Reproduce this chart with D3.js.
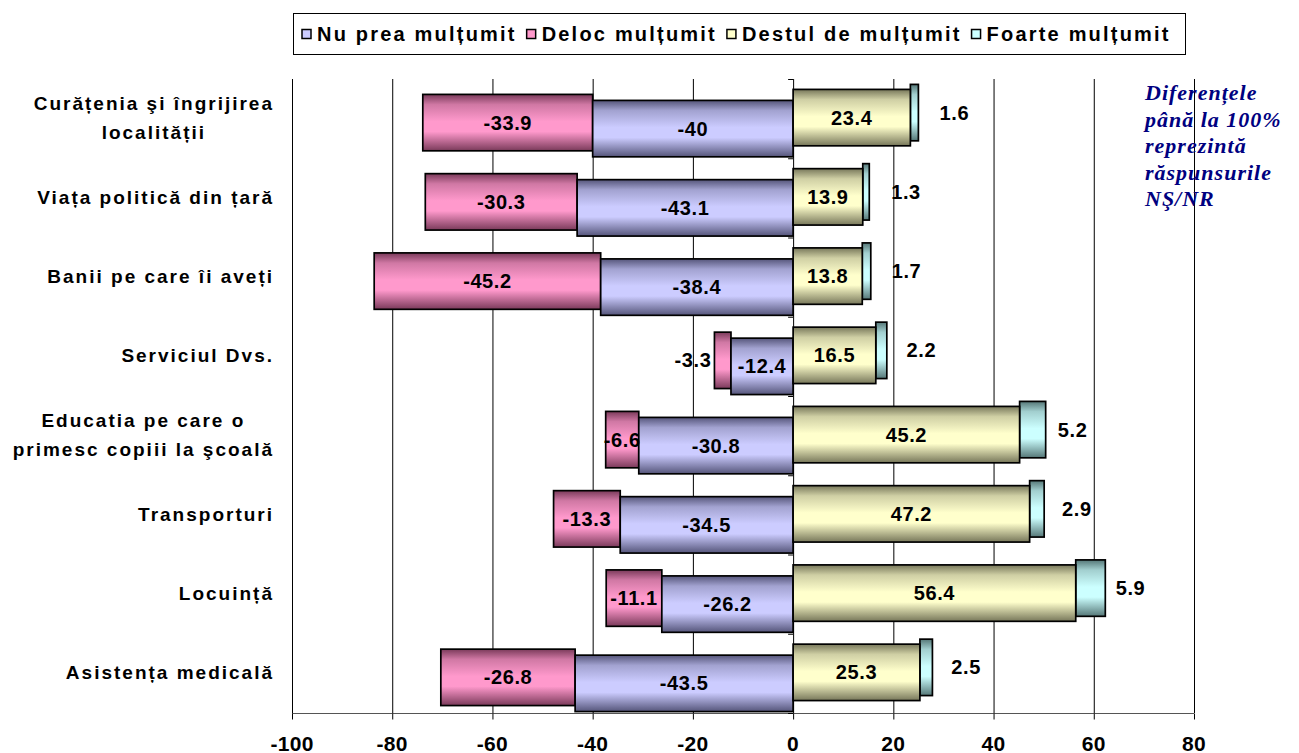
<!DOCTYPE html>
<html>
<head>
<meta charset="utf-8">
<script src="https://cdn.jsdelivr.net/npm/d3@7"></script>
<style>
  body { margin: 0; background: #fff; }
  text { font-family: "Liberation Sans", Arial, sans-serif; font-weight: bold; fill: #000; }
</style>
</head>
<body>
<div id="chart"></div>
<script>
// categories, top to bottom
const categories = [
    ["Curățenia şi îngrijirea", "localității"],
    ["Viața politică din țară"],
    ["Banii pe care îi aveți"],
    ["Serviciul Dvs."],
    ["Educatia pe care o", "primesc copiii la şcoală"],
    ["Transporturi"],
    ["Locuință"],
    ["Asistența medicală"]
];

// series values (negative side)
const nuPrea = [-40, -43.1, -38.4, -12.4, -30.8, -34.5, -26.2, -43.5];
const deloc = [-33.9, -30.3, -45.2, -3.3, -6.6, -13.3, -11.1, -26.8];
// series values (positive side)
const destul = [23.4, 13.9, 13.8, 16.5, 45.2, 47.2, 56.4, 25.3];
const foarte = [1.6, 1.3, 1.7, 2.2, 5.2, 2.9, 5.9, 2.5];

const seriesNames = ["Nu prea mulțumit", "Deloc mulțumit", "Destul de mulțumit", "Foarte mulțumit"];
const xTicks = [-100, -80, -60, -40, -20, 0, 20, 40, 60, 80];
const noteLines = ["Diferențele", "până la 100%", "reprezintă", "răspunsurile", "NŞ/NR"];

const width = 1299, height = 753;

const svg = d3.select("#chart").append("svg")
    .attr("width", width)
    .attr("height", height);

// scales
const x = d3.scaleLinear().domain([-100, 80]).range([292, 1194]);
const keys = categories.map((c, i) => "c" + i);
const y = d3.scaleBand().domain(keys).range([79, 713]).padding(0);
const bw = y.bandwidth();

// series styling (colours + depth offset of each series)
const styles = [
    {light: "#ccccff", dark: "#55557a", dy: 0},
    {light: "#ff99cc", dark: "#7a3a5a", dy: -6},
    {light: "#ffffcc", dark: "#77775a", dy: -11},
    {light: "#ccffff", dark: "#557777", dy: -16}
];

// gradients for the cylinder look
const defs = svg.append("defs");
styles.forEach((s, i) => {
    const g = defs.append("linearGradient")
        .attr("id", "grad" + i)
        .attr("x1", 0).attr("y1", 0).attr("x2", 0).attr("y2", 1);
    g.append("stop").attr("offset", "0%").attr("stop-color", s.dark);
    g.append("stop").attr("offset", "18%").attr("stop-color", d3.interpolateRgb(s.dark, s.light)(0.65));
    g.append("stop").attr("offset", "48%").attr("stop-color", s.light);
    g.append("stop").attr("offset", "66%").attr("stop-color", s.light);
    g.append("stop").attr("offset", "100%").attr("stop-color", s.dark);
});

// grid lines
svg.append("g").selectAll("line")
    .data(xTicks.filter(d => d !== 0))
    .enter().append("line")
    .attr("x1", d => x(d) + 0.5).attr("x2", d => x(d) + 0.5)
    .attr("y1", 79).attr("y2", 713)
    .attr("stroke", "#000").attr("stroke-width", 1);

// bottom axis
const xAxis = svg.append("g").attr("transform", "translate(0,713.5)");
xAxis.append("line")
    .attr("x1", x(-100)).attr("x2", x(80))
    .attr("stroke", "#555").attr("stroke-width", 1);
xAxis.selectAll(".tick")
    .data(xTicks)
    .enter().append("line")
    .attr("x1", d => x(d) + 0.5).attr("x2", d => x(d) + 0.5)
    .attr("y1", 0).attr("y2", 6)
    .attr("stroke", "#000");
xAxis.selectAll(".tlabel")
    .data(xTicks)
    .enter().append("text")
    .attr("x", d => x(d))
    .attr("y", 37)
    .attr("text-anchor", "middle")
    .attr("font-size", "21px")
    .style("letter-spacing", "0.3px")
    .text(d => d);

// category axis at zero
const zAxis = svg.append("g");
zAxis.append("line")
    .attr("x1", x(0) + 0.5).attr("x2", x(0) + 0.5)
    .attr("y1", 79).attr("y2", 713)
    .attr("stroke", "#000");
zAxis.selectAll(".ztick")
    .data(keys.concat(["end"]))
    .enter().append("line")
    .attr("x1", x(0) - 5).attr("x2", x(0))
    .attr("y1", (d, i) => 79 + i * bw + 0.5)
    .attr("y2", (d, i) => 79 + i * bw + 0.5)
    .attr("stroke", "#000");

// build segments
const segments = [];
keys.forEach((k, i) => {
    segments.push({s: 1, k: k, x0: nuPrea[i], x1: nuPrea[i] + deloc[i], v: deloc[i]});
    segments.push({s: 3, k: k, x0: destul[i], x1: destul[i] + foarte[i], v: foarte[i]});
    segments.push({s: 0, k: k, x0: 0, x1: nuPrea[i], v: nuPrea[i]});
    segments.push({s: 2, k: k, x0: 0, x1: destul[i], v: destul[i]});
});

const barTop = d => y(d.k) + bw * 0.27 + styles[d.s].dy;
const barH = bw * 0.712;

svg.append("g").selectAll("rect")
    .data(segments)
    .enter().append("rect")
    .attr("x", d => Math.min(x(d.x0), x(d.x1)))
    .attr("y", d => barTop(d))
    .attr("width", d => Math.abs(x(d.x1) - x(d.x0)))
    .attr("height", barH)
    .attr("fill", d => "url(#grad" + d.s + ")")
    .attr("stroke", "#000")
    .attr("stroke-width", 1.7);

// value labels
svg.append("g").selectAll("text")
    .data(segments)
    .enter().append("text")
    .attr("x", d => {
        const w = Math.abs(x(d.x1) - x(d.x0));
        if (d.s === 3) return x((d.x0 + d.x1) / 2) + 40;
        if (w < 20) return Math.min(x(d.x0), x(d.x1)) - 3;
        return x((d.x0 + d.x1) / 2);
    })
    .attr("y", d => barTop(d) + barH / 2 + 7)
    .attr("text-anchor", d => {
        const w = Math.abs(x(d.x1) - x(d.x0));
        return (d.s !== 3 && w < 20) ? "end" : "middle";
    })
    .attr("font-size", "20px")
    .style("letter-spacing", "0.6px")
    .text(d => d.v);

// category labels
const catG = svg.append("g");
categories.forEach((lines, i) => {
    const cy = y(keys[i]) + bw / 2;
    const grp = catG.append("g");
    const texts = lines.map((ln, j) => grp.append("text")
        .attr("y", cy + 6 + (j - (lines.length - 1) / 2) * 29)
        .attr("font-size", "19px")
        .style("letter-spacing", "2px")
        .text(ln));
    const maxW = d3.max(texts, t => t.node().getComputedTextLength());
    texts.forEach(t => t.attr("x", 274 - maxW / 2).attr("text-anchor", "middle"));
});

// legend
const legend = svg.append("g");
legend.append("rect")
    .attr("x", 293.5).attr("y", 13.5)
    .attr("width", 892).attr("height", 41)
    .attr("fill", "#fff").attr("stroke", "#000").attr("stroke-width", 1);
let lx = 302;
seriesNames.forEach((name, i) => {
    legend.append("rect")
        .attr("x", lx).attr("y", 29.5)
        .attr("width", 9).attr("height", 9)
        .attr("fill", styles[i].light)
        .attr("stroke", "#000").attr("stroke-width", 1.5);
    const t = legend.append("text")
        .attr("x", lx + 15).attr("y", 40.5)
        .attr("font-size", "20px")
        .style("letter-spacing", "2.2px")
        .text(name);
    lx += 15 + t.node().getComputedTextLength() + 10;
});

// note on the right
svg.append("g").selectAll("text")
    .data(noteLines)
    .enter().append("text")
    .attr("x", 1145)
    .attr("y", (d, i) => 100 + i * 26.5)
    .style("font-family", "'Liberation Serif', 'Times New Roman', serif")
    .style("font-style", "italic")
    .style("fill", "#000080")
    .style("letter-spacing", "1px")
    .attr("font-size", "22px")
    .text(d => d);
</script>
</body>
</html>
